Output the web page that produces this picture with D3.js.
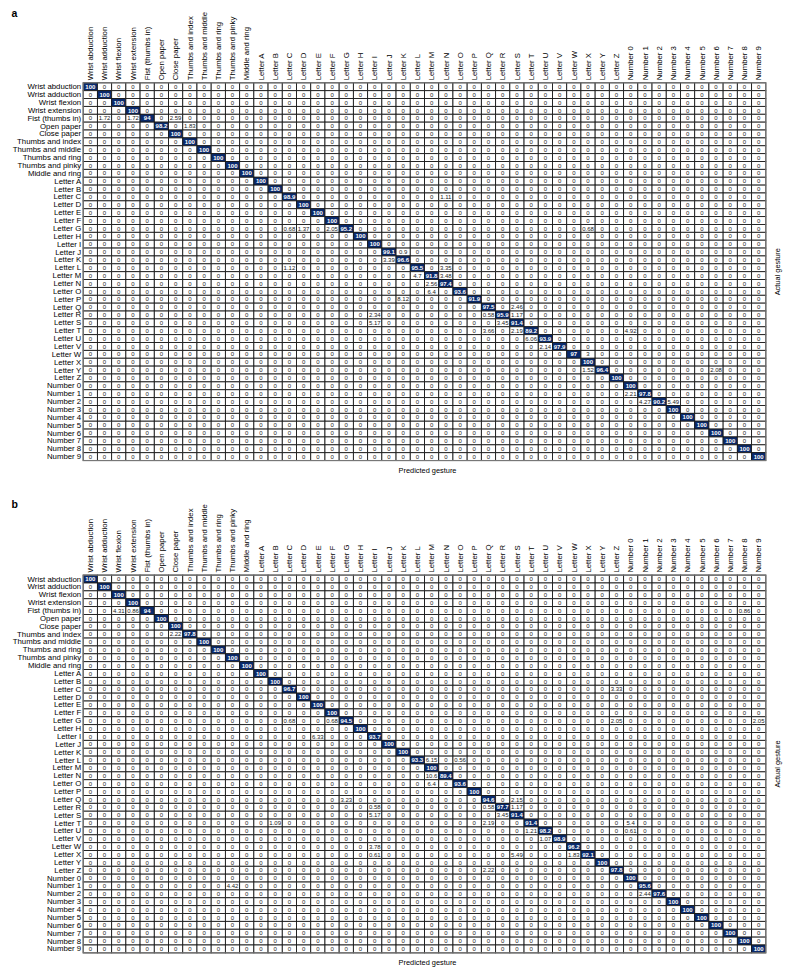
<!DOCTYPE html>
<html>
<head>
<meta charset="utf-8">
<script src="https://cdn.jsdelivr.net/npm/d3@7"></script>
<style>
  html, body { margin: 0; padding: 0; background: #fff; }
  svg { display: block; }
  text { font-family: "Liberation Sans", Arial, Helvetica, sans-serif; }
</style>
</head>
<body>
<svg id="chart" width="804" height="974"></svg>
<script>
// Gesture classes (rows = actual, columns = predicted)
const gestures = [
  "Wrist abduction", "Wrist adduction", "Wrist flexion", "Wrist extension",
  "Fist (thumbs in)", "Open paper", "Close paper", "Thumbs and index",
  "Thumbs and middle", "Thumbs and ring", "Thumbs and pinky", "Middle and ring",
  "Letter A", "Letter B", "Letter C", "Letter D", "Letter E", "Letter F",
  "Letter G", "Letter H", "Letter I", "Letter J", "Letter K", "Letter L",
  "Letter M", "Letter N", "Letter O", "Letter P", "Letter Q", "Letter R",
  "Letter S", "Letter T", "Letter U", "Letter V", "Letter W", "Letter X",
  "Letter Y", "Letter Z",
  "Number 0", "Number 1", "Number 2", "Number 3", "Number 4",
  "Number 5", "Number 6", "Number 7", "Number 8", "Number 9"
];

const panelLetters = ["a", "b"];
const xAxisTitle = "Predicted gesture";
const yAxisTitle = "Actual gesture";

// Non-zero cells of panel a: [actual, predicted, percent]; every other cell is 0
const cellsA = [
  ["Wrist abduction", "Wrist abduction", 100],
  ["Wrist adduction", "Wrist adduction", 100],
  ["Wrist flexion", "Wrist flexion", 100],
  ["Wrist extension", "Wrist extension", 100],
  ["Fist (thumbs in)", "Wrist adduction", 1.72],
  ["Fist (thumbs in)", "Wrist extension", 1.72],
  ["Fist (thumbs in)", "Fist (thumbs in)", 94],
  ["Fist (thumbs in)", "Close paper", 2.59],
  ["Open paper", "Open paper", 98.2],
  ["Open paper", "Thumbs and index", 1.83],
  ["Close paper", "Close paper", 100],
  ["Thumbs and index", "Thumbs and index", 100],
  ["Thumbs and middle", "Thumbs and middle", 100],
  ["Thumbs and ring", "Thumbs and ring", 100],
  ["Thumbs and pinky", "Thumbs and pinky", 100],
  ["Middle and ring", "Middle and ring", 100],
  ["Letter A", "Letter A", 100],
  ["Letter B", "Letter B", 100],
  ["Letter C", "Letter C", 98.9],
  ["Letter C", "Letter N", 1.11],
  ["Letter D", "Letter D", 100],
  ["Letter E", "Letter E", 100],
  ["Letter F", "Letter F", 100],
  ["Letter G", "Letter C", 0.68],
  ["Letter G", "Letter D", 1.37],
  ["Letter G", "Letter F", 2.05],
  ["Letter G", "Letter G", 95.2],
  ["Letter G", "Letter X", 0.68],
  ["Letter H", "Letter H", 100],
  ["Letter I", "Letter I", 100],
  ["Letter J", "Letter J", 99.1],
  ["Letter J", "Letter K", 0.9],
  ["Letter K", "Letter J", 3.39],
  ["Letter K", "Letter K", 96.6],
  ["Letter L", "Letter C", 1.12],
  ["Letter L", "Letter L", 95.5],
  ["Letter L", "Letter N", 3.35],
  ["Letter M", "Letter L", 4.7],
  ["Letter M", "Letter M", 91.8],
  ["Letter M", "Letter N", 3.48],
  ["Letter N", "Letter M", 2.56],
  ["Letter N", "Letter N", 97.4],
  ["Letter O", "Letter M", 6.4],
  ["Letter O", "Letter O", 93.6],
  ["Letter P", "Letter K", 8.12],
  ["Letter P", "Letter P", 91.9],
  ["Letter Q", "Letter Q", 97.5],
  ["Letter Q", "Letter S", 2.46],
  ["Letter R", "Letter I", 2.34],
  ["Letter R", "Letter Q", 0.58],
  ["Letter R", "Letter R", 95.9],
  ["Letter R", "Letter S", 1.17],
  ["Letter S", "Letter I", 5.17],
  ["Letter S", "Letter R", 3.45],
  ["Letter S", "Letter S", 91.4],
  ["Letter T", "Letter Q", 3.66],
  ["Letter T", "Letter S", 2.19],
  ["Letter T", "Letter T", 89.2],
  ["Letter T", "Number 0", 4.92],
  ["Letter U", "Letter T", 6.06],
  ["Letter U", "Letter U", 93.9],
  ["Letter V", "Letter U", 2.14],
  ["Letter V", "Letter V", 97.9],
  ["Letter W", "Letter W", 97],
  ["Letter W", "Letter X", 3],
  ["Letter X", "Letter X", 100],
  ["Letter Y", "Letter X", 1.52],
  ["Letter Y", "Letter Y", 96.4],
  ["Letter Y", "Number 6", 2.08],
  ["Letter Z", "Letter Z", 100],
  ["Number 0", "Number 0", 100],
  ["Number 1", "Number 0", 2.21],
  ["Number 1", "Number 1", 97.8],
  ["Number 2", "Number 1", 4.27],
  ["Number 2", "Number 2", 90.2],
  ["Number 2", "Number 3", 5.49],
  ["Number 3", "Number 3", 100],
  ["Number 4", "Number 4", 100],
  ["Number 5", "Number 5", 100],
  ["Number 6", "Number 6", 100],
  ["Number 7", "Number 7", 100],
  ["Number 8", "Number 8", 100],
  ["Number 9", "Number 9", 100]
];

// Non-zero cells of panel b
const cellsB = [
  ["Wrist abduction", "Wrist abduction", 100],
  ["Wrist adduction", "Wrist adduction", 100],
  ["Wrist flexion", "Wrist flexion", 100],
  ["Wrist extension", "Wrist extension", 100],
  ["Fist (thumbs in)", "Wrist flexion", 4.31],
  ["Fist (thumbs in)", "Wrist extension", 0.86],
  ["Fist (thumbs in)", "Fist (thumbs in)", 94],
  ["Fist (thumbs in)", "Number 8", 0.86],
  ["Open paper", "Open paper", 100],
  ["Close paper", "Close paper", 100],
  ["Thumbs and index", "Close paper", 2.22],
  ["Thumbs and index", "Thumbs and index", 97.8],
  ["Thumbs and middle", "Thumbs and middle", 100],
  ["Thumbs and ring", "Thumbs and ring", 100],
  ["Thumbs and pinky", "Thumbs and pinky", 100],
  ["Middle and ring", "Middle and ring", 100],
  ["Letter A", "Letter A", 100],
  ["Letter B", "Letter B", 100],
  ["Letter C", "Letter C", 96.7],
  ["Letter C", "Letter Z", 3.33],
  ["Letter D", "Letter D", 100],
  ["Letter E", "Letter E", 100],
  ["Letter F", "Letter F", 100],
  ["Letter G", "Letter C", 0.68],
  ["Letter G", "Letter F", 0.68],
  ["Letter G", "Letter G", 94.5],
  ["Letter G", "Letter Z", 2.05],
  ["Letter G", "Number 9", 2.05],
  ["Letter H", "Letter H", 100],
  ["Letter I", "Letter E", 6.33],
  ["Letter I", "Letter I", 93.7],
  ["Letter J", "Letter J", 100],
  ["Letter K", "Letter K", 100],
  ["Letter L", "Letter L", 93.3],
  ["Letter L", "Letter M", 6.15],
  ["Letter L", "Letter O", 0.56],
  ["Letter M", "Letter M", 100],
  ["Letter N", "Letter M", 10.6],
  ["Letter N", "Letter N", 89.4],
  ["Letter O", "Letter M", 6.4],
  ["Letter O", "Letter O", 93.6],
  ["Letter P", "Letter P", 100],
  ["Letter Q", "Letter G", 3.23],
  ["Letter Q", "Letter Q", 94.6],
  ["Letter Q", "Letter S", 2.15],
  ["Letter R", "Letter I", 0.58],
  ["Letter R", "Letter Q", 0.58],
  ["Letter R", "Letter R", 97.7],
  ["Letter R", "Letter S", 1.17],
  ["Letter S", "Letter I", 5.17],
  ["Letter S", "Letter R", 3.45],
  ["Letter S", "Letter S", 91.4],
  ["Letter T", "Letter B", 1.09],
  ["Letter T", "Letter Q", 2.19],
  ["Letter T", "Letter T", 91.4],
  ["Letter T", "Number 0", 5.4],
  ["Letter U", "Letter T", 1.21],
  ["Letter U", "Letter U", 98.2],
  ["Letter U", "Number 0", 0.61],
  ["Letter V", "Letter U", 1.07],
  ["Letter V", "Letter V", 98.9],
  ["Letter W", "Letter I", 3.78],
  ["Letter W", "Letter W", 96.2],
  ["Letter X", "Letter I", 0.61],
  ["Letter X", "Letter S", 5.49],
  ["Letter X", "Letter W", 1.83],
  ["Letter X", "Letter X", 92.1],
  ["Letter Y", "Letter Y", 100],
  ["Letter Z", "Letter Q", 2.22],
  ["Letter Z", "Letter Z", 97.8],
  ["Number 0", "Number 0", 100],
  ["Number 1", "Thumbs and pinky", 4.42],
  ["Number 1", "Number 1", 95.6],
  ["Number 2", "Number 1", 2.44],
  ["Number 2", "Number 2", 97.6],
  ["Number 3", "Number 3", 100],
  ["Number 4", "Number 4", 100],
  ["Number 5", "Number 5", 100],
  ["Number 6", "Number 6", 100],
  ["Number 7", "Number 7", 100],
  ["Number 8", "Number 8", 100],
  ["Number 9", "Number 9", 100]
];

const panels = [
  { letter: panelLetters[0], cells: cellsA, top: 82.8, letterY: 16.5 },
  { letter: panelLetters[1], cells: cellsB, top: 575.1, letterY: 508 }
];

const svg = d3.select("#chart");
svg.append("rect").attr("width", 804).attr("height", 974).attr("fill", "#fff");

const left = 83.2, right = 765.8;
const cellH = 7.87;
const gridH = cellH * gestures.length;

const x = d3.scaleBand().domain(gestures).range([left, right]).padding(0);
const color = d3.scaleThreshold().domain([50]).range(["#ffffff", "#0a2a6c"]);

panels.forEach(p => {
  const y = d3.scaleBand().domain(gestures).range([p.top, p.top + gridH]).padding(0);
  const lookup = new Map(p.cells.map(c => [c[0] + "|" + c[1], c[2]]));
  const full = [];
  gestures.forEach(r => gestures.forEach(c => {
    full.push({ r, c, v: lookup.has(r + "|" + c) ? lookup.get(r + "|" + c) : 0 });
  }));

  const g = svg.append("g");

  g.selectAll("rect.cell").data(full).join("rect")
    .attr("class", "cell")
    .attr("x", d => x(d.c))
    .attr("y", d => y(d.r))
    .attr("width", x.bandwidth())
    .attr("height", y.bandwidth())
    .attr("fill", d => color(d.v))
    .attr("stroke", "#1a1a1a")
    .attr("stroke-width", 0.9);

  g.selectAll("text.val").data(full).join("text")
    .attr("class", "val")
    .attr("x", d => x(d.c) + x.bandwidth() / 2)
    .attr("y", d => y(d.r) + y.bandwidth() / 2)
    .attr("dy", "0.36em")
    .attr("text-anchor", "middle")
    .attr("font-size", 6)
    .attr("fill", d => d.v >= 50 ? "#ffffff" : "#222")
    .attr("font-weight", d => d.v >= 50 ? "bold" : "normal")
    .text(d => String(d.v));

  // outer frame
  g.append("rect")
    .attr("x", left).attr("y", p.top)
    .attr("width", right - left).attr("height", gridH)
    .attr("fill", "none").attr("stroke", "#777").attr("stroke-width", 1.2);

  // row axis (actual)
  const yAxis = g.append("g")
    .attr("transform", `translate(${left},0)`)
    .call(d3.axisLeft(y).tickSize(0).tickPadding(2));
  yAxis.select(".domain").remove();
  yAxis.selectAll("text")
    .attr("font-size", 7.8).attr("fill", "#000")
    .style("font-family", "'Liberation Sans', Arial, sans-serif");

  // column axis (predicted), rotated labels
  const xAxis = g.append("g")
    .attr("transform", `translate(0,${p.top})`)
    .call(d3.axisTop(x).tickSize(0).tickPadding(0));
  xAxis.select(".domain").remove();
  xAxis.selectAll("text")
    .attr("font-size", 7.8).attr("fill", "#000")
    .attr("transform", "rotate(-90)")
    .attr("text-anchor", "start")
    .attr("x", 2.5).attr("y", 0).attr("dy", "0.35em")
    .style("font-family", "'Liberation Sans', Arial, sans-serif");

  // axis titles
  g.append("text")
    .attr("x", (left + right) / 2 + 3)
    .attr("y", p.top + gridH + 12.3)
    .attr("text-anchor", "middle")
    .attr("font-size", 7.4)
    .text(xAxisTitle);

  g.append("text")
    .attr("transform", `translate(780,${p.top + gridH / 2}) rotate(-90)`)
    .attr("text-anchor", "middle")
    .attr("font-size", 7.4)
    .text(yAxisTitle);

  // panel letter
  g.append("text")
    .attr("x", 11.5).attr("y", p.letterY)
    .attr("font-size", 10.5).attr("font-weight", "bold")
    .text(p.letter);
});
</script>
</body>
</html>
